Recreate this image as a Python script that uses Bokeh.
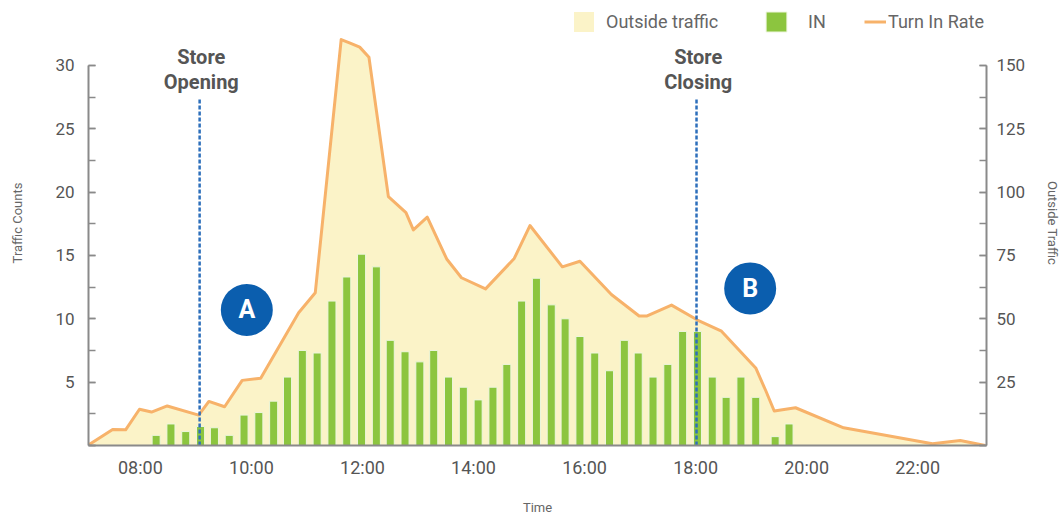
from bokeh.plotting import figure
from bokeh.models import (Range1d, LinearAxis, SingleIntervalTicker, FixedTicker,
                          Legend, LegendItem)
from bokeh.embed import file_html
from bokeh.resources import INLINE
from bokeh.core.properties import value

# ---------------- data ----------------
bar_times = ["08:17", "08:33", "08:49", "09:05", "09:20", "09:36", "09:52", "10:08",
             "10:24", "10:39", "10:55", "11:11", "11:27", "11:43", "11:59", "12:15",
             "12:30", "12:46", "13:02", "13:17", "13:33", "13:49", "14:05", "14:21",
             "14:36", "14:52", "15:08", "15:24", "15:39", "15:55", "16:11", "16:27",
             "16:43", "16:58", "17:14", "17:30", "17:46", "18:02", "18:18", "18:33",
             "18:49", "19:05", "19:26", "19:41"]
bar_in = [0.8, 1.7, 1.1, 1.5, 1.4, 0.8, 2.4, 2.6, 3.5, 5.4, 7.5, 7.3, 11.4, 13.3, 15.1, 14.1,
          8.3, 7.4, 6.6, 7.5, 5.4, 4.6, 3.6, 4.6, 6.4, 11.4, 13.2, 11.1, 10.0, 8.6, 7.3, 5.9,
          8.3, 7.3, 5.4, 6.4, 9.0, 9.0, 5.4, 3.8, 5.4, 3.8, 0.7, 1.7]

line_times = ["07:03", "07:30", "07:44", "07:59", "08:12", "08:29", "09:03", "09:14",
              "09:31", "09:50", "10:10", "10:51", "11:09", "11:37", "11:46", "11:57",
              "12:07", "12:28", "12:47", "12:55", "13:10", "13:31", "13:47", "14:13",
              "14:44", "15:01", "15:36", "15:55", "16:29", "16:59", "17:07", "17:34",
              "18:02", "18:28", "19:05", "19:16", "19:25", "19:48", "20:40", "22:16",
              "22:46", "23:13"]
outside_traffic = [0, 6.3, 6.2, 14.3, 13.2, 15.6, 12.0, 17.4, 15.3, 25.7, 26.5, 52.4, 60.3,
                   160.2, 158.9, 157.2, 153.2, 98.2, 91.9, 85.1, 90.1, 73.6, 66.2, 61.8,
                   73.8, 86.8, 70.5, 72.7, 59.6, 51.1, 51.1, 55.4, 49.5, 45.1, 30.6, 21.5,
                   13.6, 14.9, 7.0, 0.7, 2.0, 0]

x_ticks = [8, 10, 12, 14, 16, 18, 20, 22]
x_tick_labels = ["08:00", "10:00", "12:00", "14:00", "16:00", "18:00", "20:00", "22:00"]

event_times = ["09:04", "18:01"]
event_labels = [["Store", "Opening"], ["Store", "Closing"]]
marker_times = ["09:55", "18:59"]
marker_counts = [10.7, 12.4]
marker_letters = ["A", "B"]


def hours(s):
    h, m = s.split(":")
    return int(h) + int(m) / 60.0


bx = [hours(t) for t in bar_times]
lx = [hours(t) for t in line_times]
ex = [hours(t) for t in event_times]
mx = [hours(t) for t in marker_times]

FONT = "Roboto"
AXIS_GRAY = "#8a8a8a"
TEXT_GRAY = "#555555"

p = figure(width=1063, height=517, x_range=Range1d(7.065, 23.24), y_range=Range1d(0, 35.12),
           output_backend="svg", toolbar_location=None,
           min_border_left=88, min_border_right=75, min_border_top=0, min_border_bottom=71,
           outline_line_color=None)
p.grid.visible = False
p.extra_y_ranges = {"outside": Range1d(0, 175.6)}

# area + line (outside traffic, right axis)
area = p.varea(x=lx, y1=[0] * len(lx), y2=outside_traffic, y_range_name="outside",
               fill_color="#fbf3c8")
line = p.line(x=lx, y=outside_traffic, y_range_name="outside", line_color="#f7b26a",
              line_width=3, line_join="round")

# bars (IN, left axis)
bars = p.vbar(x=bx, top=bar_in, width=0.145, fill_color="#8cc53f",
              line_color="#eef6de", line_width=1)

# store opening / closing
p.segment(x0=ex, y0=[0, 0], x1=ex, y1=[27.3, 27.3], line_color="#2d6fbb",
          line_width=2.5, line_dash="4 2")
for xv, (l1, l2) in zip(ex, event_labels):
    p.text(x=[xv + 0.03, xv + 0.03], y=[30.63, 28.66], text=[l1, l2],
           text_font=value(FONT), text_font_style="bold", text_font_size="20px",
           text_color=TEXT_GRAY, text_align="center", text_baseline="middle")

# A / B markers
p.scatter(x=mx, y=marker_counts, size=52, fill_color="#0b5eae", line_color=None)
p.text(x=mx, y=marker_counts, text=marker_letters, text_font=value(FONT),
       text_font_style="bold", text_font_size="25px", text_color="white",
       text_align="center", text_baseline="middle")

# ---------------- axes ----------------
yl = p.yaxis[0]
yl.ticker = SingleIntervalTicker(interval=5, num_minor_ticks=2)
yl.bounds = (0, 30)
yl.major_label_overrides = {0: ""}
yl.axis_label = "Traffic Counts"

yr = LinearAxis(y_range_name="outside",
                ticker=SingleIntervalTicker(interval=25, num_minor_ticks=2),
                bounds=(0, 150), axis_label="Outside Traffic")
yr.major_label_overrides = {0: ""}
p.add_layout(yr, "right")

for ax in (yl, yr):
    ax.major_tick_in = 7
    ax.major_tick_out = 0
    ax.minor_tick_in = 7
    ax.minor_tick_out = 0
    ax.axis_line_color = AXIS_GRAY
    ax.axis_line_width = 2
    ax.major_tick_line_color = AXIS_GRAY
    ax.minor_tick_line_color = AXIS_GRAY
    ax.major_tick_line_width = 1.5
    ax.minor_tick_line_width = 1.5
    ax.major_label_text_font = FONT
    ax.major_label_text_font_size = "17px"
    ax.major_label_text_color = TEXT_GRAY
    ax.axis_label_text_font = FONT
    ax.axis_label_text_font_size = "13px"
    ax.axis_label_text_font_style = "normal"
    ax.axis_label_text_color = "#666666"
yl.major_label_standoff = 14
yl.axis_label_standoff = 27
yr.major_label_standoff = 10
yr.axis_label_standoff = 17

xa = p.xaxis[0]
xa.ticker = FixedTicker(ticks=x_ticks)
xa.major_label_overrides = {t: l for t, l in zip(x_ticks, x_tick_labels)}
xa.major_tick_in = 0
xa.major_tick_out = 0
xa.minor_tick_line_color = None
xa.axis_line_color = AXIS_GRAY
xa.axis_line_width = 2
xa.major_label_text_font = FONT
xa.major_label_text_font_size = "18px"
xa.major_label_text_color = TEXT_GRAY
xa.major_label_standoff = 11
xa.axis_label = "Time"
xa.axis_label_text_font = FONT
xa.axis_label_text_font_size = "13px"
xa.axis_label_text_font_style = "normal"
xa.axis_label_text_color = "#666666"
xa.axis_label_standoff = 19

# ---------------- legend ----------------
def make_legend(label, rend, loc, gw, standoff):
    lg = Legend(items=[LegendItem(label=label, renderers=[rend])], location=loc,
                orientation="horizontal", glyph_width=gw, glyph_height=25,
                label_standoff=standoff, padding=0, margin=0, spacing=0,
                border_line_color=None, background_fill_alpha=0,
                label_text_font=FONT, label_text_font_size="18px",
                label_text_color="#666666", label_height=25)
    p.add_layout(lg)


make_legend("Outside traffic", area, (483, 411), 25, 10)
make_legend("IN", bars, (675, 411), 26, 19)
make_legend("Turn In Rate", line, (776, 411), 22, 2)

open("out.html", "w").write(file_html(p, INLINE))
